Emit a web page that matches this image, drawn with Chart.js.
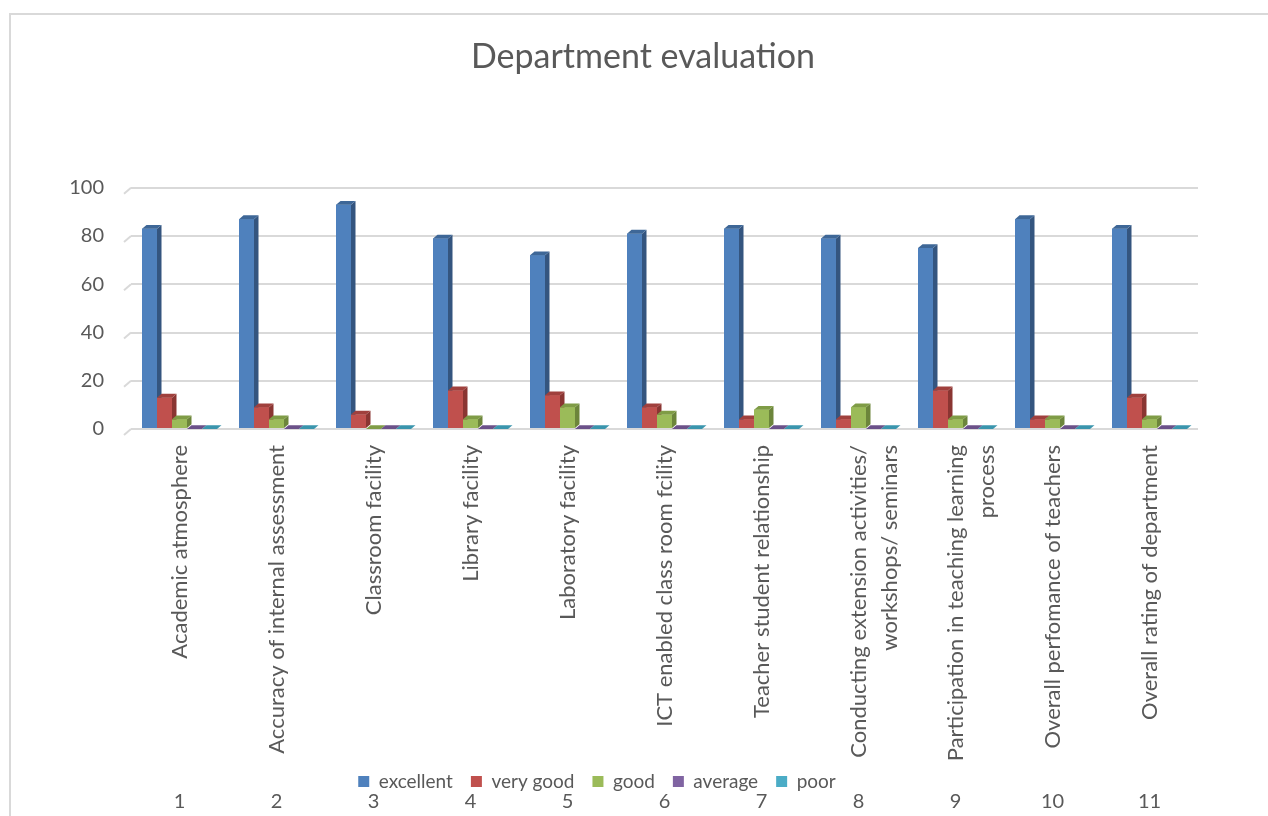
<!DOCTYPE html>
<html>
<head>
<meta charset="utf-8">
<script src="https://cdn.jsdelivr.net/npm/chart.js@4.4.0/dist/chart.umd.min.js"></script>
<style>
  html, body { margin: 0; padding: 0; background: #fff; overflow: hidden; }
  #wrap { position: relative; width: 1268px; height: 816px; }
  #frame { position: absolute; left: 9px; top: 13px; width: 1300px; height: 900px; border: 2px solid #d9d9d9; box-sizing: border-box; }
</style>
</head>
<body>
<div id="wrap">
  <div id="frame"></div>
  <canvas id="chart"></canvas>
</div>
<script>
// categories and values
let categories = [
  "Academic atmosphere",
  "Accuracy of internal assessment",
  "Classroom facility",
  "Library facility",
  "Laboratory facility",
  "ICT enabled class room fcility",
  "Teacher student relationship",
  ["Conducting extension activities/", "workshops/ seminars"],
  ["Participation in teaching learning", "process"],
  "Overall perfomance of teachers",
  "Overall rating of department",
];
let numbers = ["1", "2", "3", "4", "5", "6", "7", "8", "9", "10", "11"];
let seriesNames = ["excellent", "very good", "good", "average", "poor"];
let excellent = [83, 87, 93, 79, 72, 81, 83, 79, 75, 87, 83];
let veryGood = [13, 9, 6, 16, 14, 9, 4, 4, 16, 4, 13];
let good = [4, 4, 0, 4, 9, 6, 8, 9, 4, 4, 4];
let average = [0, 0, 0, 0, 0, 0, 0, 0, 0, 0, 0];
let poor = [0, 0, 0, 0, 0, 0, 0, 0, 0, 0, 0];
let yTicks = [0, 20, 40, 60, 80, 100];

// colors: front, side, top
let frontColors = ["#4f81bd", "#c0504d", "#9bbb59", "#8064a2", "#4bacc6"];
let sideColors = ["#34557f", "#8a3532", "#6c853b", "#5a4575", "#31819a"];
let topColors = ["#3e6797", "#a0403d", "#7f9c46", "#6b5189", "#3a95ad"];

let txt = "#595959";
let fontFam = "Lato, 'Open Sans', sans-serif";

// fake 3D: redraw bars series by series, each with its side and top face,
// so the next series covers the side of the previous one
const depthPlugin = {
  id: "depth",
  afterLayout(chart) {
    // title centred on the frame, legend sits a bit higher (overlaps like excel)
    chart.titleBlock.left += 42;
    chart.titleBlock.right += 42;
    chart.legend.left -= 4;
    chart.legend.right -= 4;
    chart.legend.top -= 11;
    chart.legend.bottom = chart.legend.top + 45;
  },
  beforeDatasetsDraw(chart) {
    // little slanted ends of the gridlines (side wall)
    const ctx = chart.ctx;
    const ys = chart.scales.y;
    const left = chart.chartArea.left;
    ctx.save();
    ctx.strokeStyle = "#d9d9d9";
    ctx.lineWidth = 2;
    yTicks.forEach((v) => {
      const y = ys.getPixelForValue(v);
      ctx.beginPath();
      ctx.moveTo(left - 7, y + 6);
      ctx.lineTo(left, y);
      ctx.stroke();
    });
    ctx.restore();
  },
  afterDatasetsDraw(chart) {
    const ctx = chart.ctx;
    const dx = 4.5, dy = 3.8;
    ctx.save();
    chart.data.datasets.forEach((ds, i) => {
      const meta = chart.getDatasetMeta(i);
      meta.data.forEach((bar) => {
        bar.draw(ctx);
        const p = bar.getProps(["x", "y", "base", "width"], true);
        const l = p.x - p.width / 2;
        const r = p.x + p.width / 2;
        ctx.fillStyle = sideColors[i];
        ctx.beginPath();
        ctx.moveTo(r, p.y);
        ctx.lineTo(r + dx, p.y - dy);
        ctx.lineTo(r + dx, p.base - dy);
        ctx.lineTo(r, p.base);
        ctx.closePath();
        ctx.fill();
        ctx.fillStyle = topColors[i];
        ctx.beginPath();
        ctx.moveTo(l, p.y);
        ctx.lineTo(l + dx, p.y - dy);
        ctx.lineTo(r + dx, p.y - dy);
        ctx.lineTo(r, p.y);
        ctx.closePath();
        ctx.fill();
      });
    });
    ctx.restore();
  },
};

let allData = [excellent, veryGood, good, average, poor];

new Chart(document.getElementById("chart"), {
  type: "bar",
  data: {
    labels: categories,
    datasets: allData.map((d, i) => ({
      label: seriesNames[i],
      data: d,
      backgroundColor: frontColors[i],
      borderWidth: 0,
      xAxisID: "x",
    })),
  },
  options: {
    responsive: true,
    maintainAspectRatio: false,
    animation: false,
    layout: { padding: { top: 20, left: 4, right: 70, bottom: 0 } },
    datasets: { bar: { categoryPercentage: 0.773, barPercentage: 1 } },
    plugins: {
      title: {
        display: true,
        text: "Department evaluation",
        color: txt,
        font: { family: fontFam, size: 34, weight: "normal" },
        padding: { top: 17, bottom: 110 },
      },
      legend: {
        position: "bottom",
        maxHeight: 25,
        labels: {
          color: txt,
          boxWidth: 11,
          boxHeight: 11,
          padding: 18,
          font: { family: fontFam, size: 19 },
        },
      },
      tooltip: { enabled: false },
    },
    scales: {
      x: {
        position: "bottom",
        grid: { display: false, drawTicks: false },
        border: { display: false },
        ticks: {
          color: txt,
          font: { family: fontFam, size: 22, lineHeight: 1.45 },
          minRotation: 90,
          maxRotation: 90,
          autoSkip: false,
          padding: 16,
        },
        afterFit: (s) => { s.height = 336; },
      },
      x2: {
        type: "category",
        labels: numbers,
        position: "bottom",
        weight: 2000,
        grid: { display: false, drawTicks: false },
        border: { display: false },
        ticks: { color: txt, font: { family: fontFam, size: 20 }, padding: 0, maxRotation: 0 },
        afterFit: (s) => { s.height = 26; },
      },
      y: {
        min: 0,
        max: 100,
        afterBuildTicks: (s) => { s.ticks = yTicks.map((v) => ({ value: v })); },
        grid: { color: "#d9d9d9", lineWidth: 2, drawTicks: false },
        border: { display: false },
        ticks: { color: txt, font: { family: fontFam, size: 20 }, padding: 27 },
        afterFit: (s) => { s.width = 127; },
      },
    },
  },
  plugins: [depthPlugin],
});
</script>
</body>
</html>
